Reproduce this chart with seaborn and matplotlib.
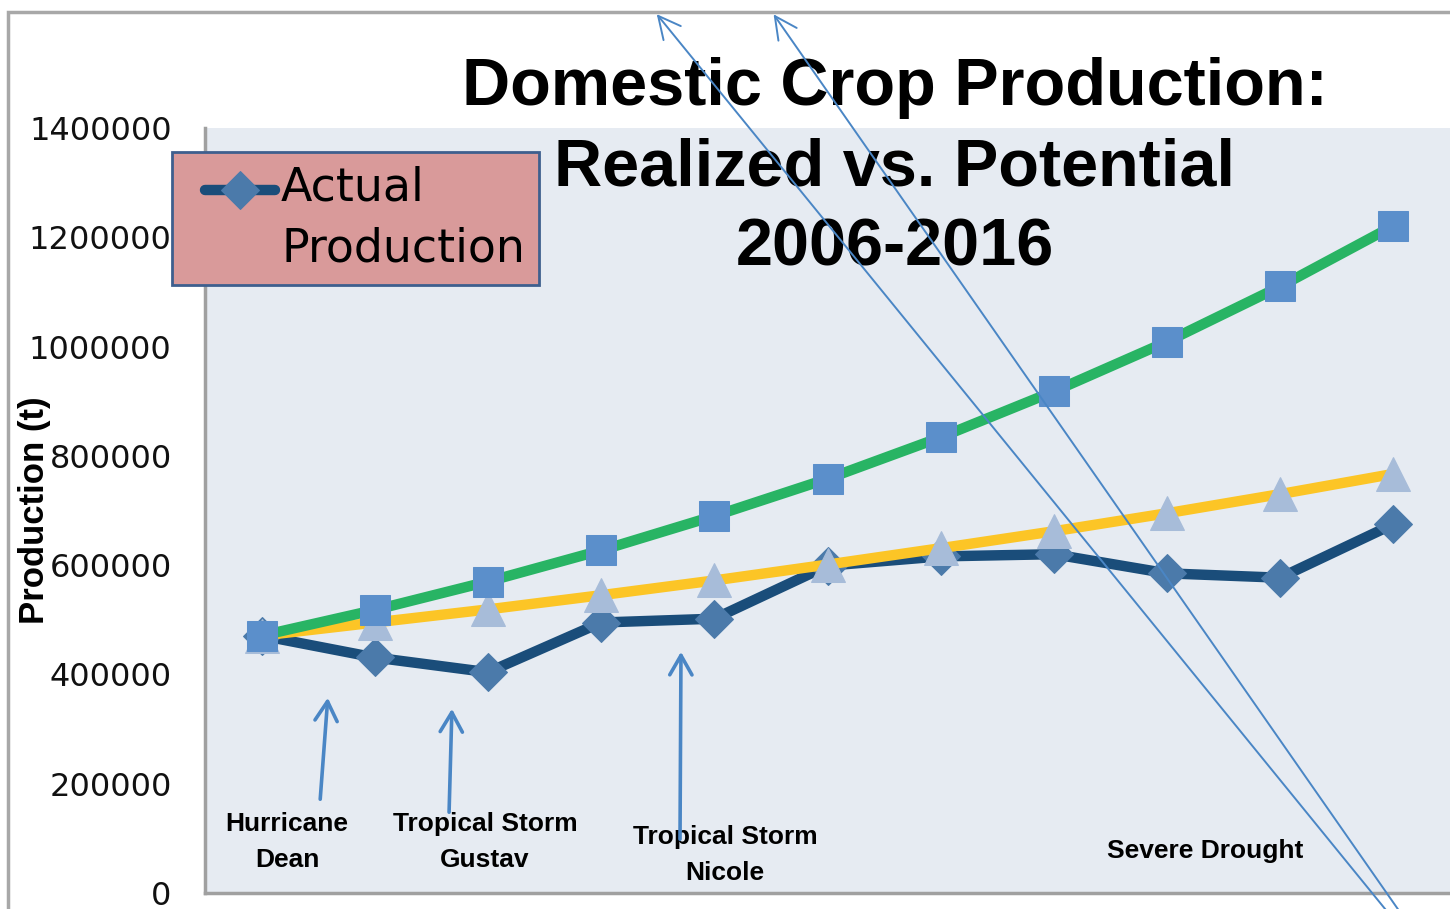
import matplotlib
matplotlib.use("Agg")
import matplotlib.pyplot as plt
import matplotlib.transforms as mtransforms
from matplotlib.legend_handler import HandlerLine2D
from matplotlib.patches import Rectangle, FancyArrowPatch
from matplotlib.lines import Line2D
import seaborn as sns
import pandas as pd

# data
years = list(range(2006, 2017))
actual = [471000, 431000, 404000, 495000, 502000, 599000, 616000, 620000, 585000, 577000, 675000]
potential_low = [471000, 495000, 519000, 545000, 572000, 601000, 631000, 662000, 695000, 730000, 767000]
potential_high = [471000, 518000, 570000, 627000, 690000, 758000, 834000, 918000, 1009000, 1110000, 1221000]
yticks = [0, 200000, 400000, 600000, 800000, 1000000, 1200000, 1400000]
title_lines = ["Domestic Crop Production:", "Realized vs. Potential", "2006-2016"]
events = ["Hurricane\nDean", "Tropical Storm\nGustav", "Tropical Storm\nNicole", "Severe Drought"]

df = pd.DataFrame({"year": years, "actual": actual,
                   "low": potential_low, "high": potential_high})

sns.set_style("white")
plt.rcParams['font.family'] = ['DejaVu Sans']
plt.rcParams['text.color'] = 'black'

W, H = 1450, 909
fig = plt.figure(figsize=(W / 100, H / 100), dpi=100)


def fp(x, y):
    # image pixel -> figure fraction
    return (x / W, 1 - y / H)


ax = fig.add_axes([205 / W, (H - 893) / H, (W - 205) / W, (893 - 128) / H])
ax.set_facecolor('#e6ebf2')

sns.lineplot(data=df, x="year", y="actual", ax=ax, color='#1a4d7a', lw=7.5,
             marker='D', markersize=19, markerfacecolor='#4b7aaa',
             markeredgecolor='#4b7aaa', label="Actual\nProduction", zorder=3)
sns.lineplot(data=df, x="year", y="low", ax=ax, color='#fcc526', lw=7.5,
             marker='^', markersize=24, markerfacecolor='#a7bcd9',
             markeredgecolor='#a7bcd9', legend=False, zorder=4)
sns.lineplot(data=df, x="year", y="high", ax=ax, color='#28b464', lw=7.5,
             marker='s', markersize=21, markerfacecolor='#5b8fcb',
             markeredgecolor='#5b8fcb', legend=False, zorder=5)

ax.set_xlim(2005.5, 2016.5)
ax.set_ylim(0, 1400000)
ax.set_xticks([])
ax.set_xlabel("")
ax.set_yticks(yticks)
ax.set_yticklabels([str(v) for v in yticks])
ax.tick_params(axis='y', length=0, pad=24, labelsize=23, labelcolor='#111111')
ax.set_ylabel("Production (t)", fontsize=25, fontweight='bold', color='black',
              family=['Liberation Sans', 'DejaVu Sans'])
ax.yaxis.set_label_coords(-0.124, 0.5)
for s in ['top', 'right']:
    ax.spines[s].set_visible(False)
for s in ['left', 'bottom']:
    ax.spines[s].set_color('#a0a0a0')
    ax.spines[s].set_linewidth(2.5)


class RaisedHandle(HandlerLine2D):
    # put the handle beside the first line of a two-line label
    def create_artists(self, legend, orig_handle, xdescent, ydescent,
                       width, height, fontsize, trans):
        arts = super().create_artists(legend, orig_handle, xdescent, ydescent,
                                      width, height, fontsize, trans)
        shift = mtransforms.Affine2D().translate(0.42 * fontsize, 0.66 * fontsize) + trans
        for a in arts:
            a.set_transform(shift)
        return arts


leg = ax.legend(loc='upper left', bbox_to_anchor=fp(172, 152),
                bbox_transform=fig.transFigure, borderaxespad=0,
                fontsize=33, frameon=True, fancybox=False, framealpha=1,
                handlelength=1.53, handletextpad=0.55, borderpad=0.3,
                handler_map={Line2D: RaisedHandle()})
leg.get_frame().set_facecolor('#d99a9a')
leg.get_frame().set_edgecolor('#3e5f8e')
leg.get_frame().set_linewidth(2)
for t in leg.get_texts():
    t.set_linespacing(1.45)
    t.set_color('black')
leg.set_zorder(10)

# title
title_base = [105, 185, 265]
for line, yy in zip(title_lines, title_base):
    fig.text(*fp(895, yy), line, ha='center', va='baseline', fontsize=48,
             fontweight='bold', color='black',
             family=['Liberation Sans', 'DejaVu Sans'], zorder=6)

# event labels
ev_pos = [(287, 842), (485, 842), (725, 855), (1205, 851)]
for txt, (x, y) in zip(events, ev_pos):
    fig.text(*fp(x, y), txt, ha='center', va='center', fontsize=19,
             fontweight='bold', linespacing=1.6, color='black',
             family=['Liberation Sans', 'DejaVu Sans'], zorder=6)

arrow_col = '#4a86c5'
short_arrows = [((320, 802), (328, 695)), ((449, 815), (452, 706)),
                ((680, 842), (681, 649))]
for tail, head in short_arrows:
    fig.add_artist(FancyArrowPatch(
        fp(*tail), fp(*head), transform=fig.transFigure,
        arrowstyle='->,head_length=7,head_width=4', color=arrow_col,
        lw=2.6, zorder=7, mutation_scale=2))

long_arrows = [((1390, 915), (655, 12)), ((1402, 915), (772, 12))]
for tail, head in long_arrows:
    fig.add_artist(FancyArrowPatch(
        fp(*tail), fp(*head), transform=fig.transFigure,
        arrowstyle='->,head_length=10,head_width=5', color=arrow_col,
        lw=1.4, zorder=7, mutation_scale=1.6))

# outer slide frame
fig.add_artist(Rectangle(fp(8, 940), (W + 40) / W, (940 - 12) / H,
                         transform=fig.transFigure, fill=False,
                         edgecolor='#a8a8a8', lw=2.5, zorder=1))

fig.savefig("out.png", dpi=100)
